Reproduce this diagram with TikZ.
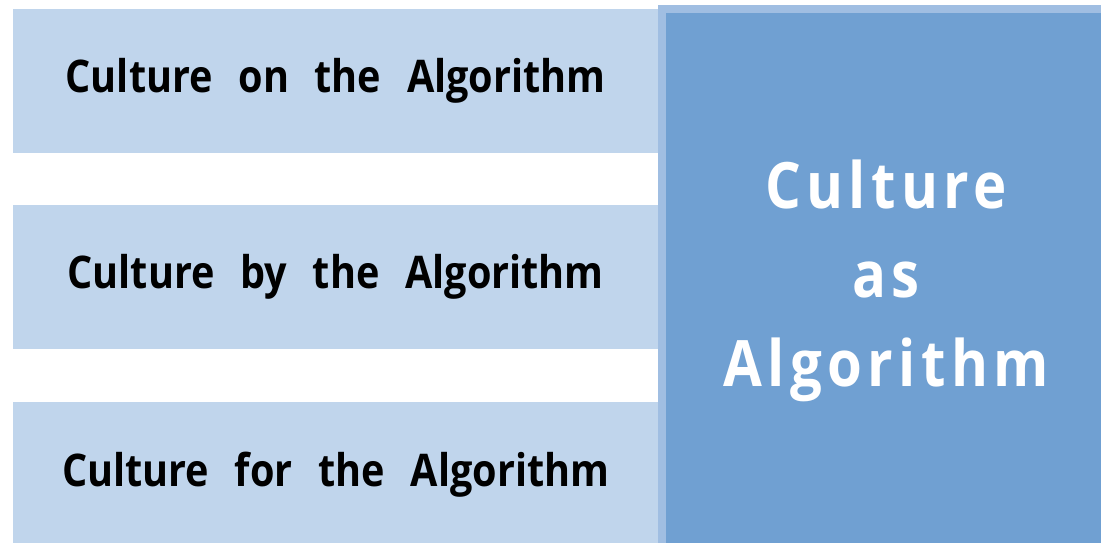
\documentclass[tikz,border=0pt]{standalone}
\usepackage{fontspec}
\setmainfont{Open Sans}
\newfontfamily\barfont[WordSpace=2.5,FakeStretch=0.88]{Open Sans}
\newfontfamily\boxfont[LetterSpace=8.5,FakeStretch=0.88]{Open Sans}
\definecolor{lightbox}{HTML}{C0D5EC}
\definecolor{darkbox}{HTML}{70A0D2}
\definecolor{rimbox}{HTML}{A0BEE2}
\begin{document}
\begin{tikzpicture}[x=1pt,y=-1pt]
\tikzset{side/.style={fill=lightbox,minimum width=645pt,minimum height=144pt,anchor=north west,inner sep=0pt,
  font=\barfont\fontsize{45}{54}\selectfont\bfseries}}
\useasboundingbox (0,0) rectangle (1101,543);
\clip (0,0) rectangle (1101,543);
% three light bars on the left
\node[side] (on) at (13,9) {Culture on the Algorithm};
\node[side] (by) at (13,205) {Culture by the Algorithm};
\node[side] (for) at (13,402) {Culture for the Algorithm};
% big box on the right
\draw[rimbox,line width=8,fill=darkbox] (662,9) rectangle (1110,547);
\node[white,align=center,font=\boxfont\fontsize{64}{89}\selectfont\bfseries] (algo) at (886,281)
  {Culture\\as\\Algorithm};
\end{tikzpicture}
\end{document}
